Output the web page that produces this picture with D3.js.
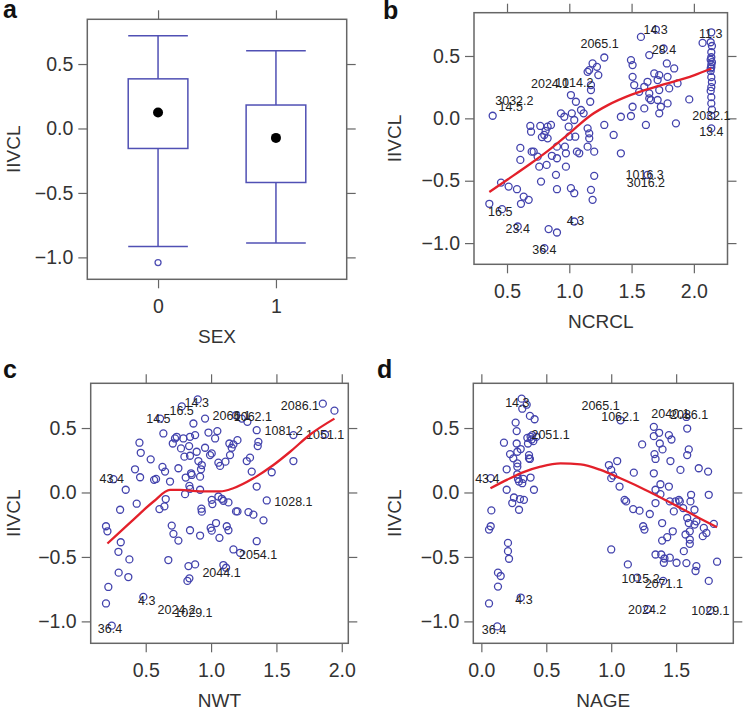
<!DOCTYPE html>
<html><head><meta charset="utf-8">
<script src="https://cdn.jsdelivr.net/npm/d3@7"></script>
<style>
body{margin:0;background:#fff;}
svg{display:block;font-family:"Liberation Sans",Arial,Helvetica,sans-serif;}
</style></head>
<body>
<svg id="chart" width="748" height="710"></svg>
<script>
// ---------------- DATA ----------------
const yTicks = [-1.0, -0.5, 0.0, 0.5];
const yLabel = "IIVCL";

// Panel a: box plot by SEX
const sexCategories = ["0", "1"];
const boxWhiskerLow  = [-0.915, -0.888];
const boxQ1          = [-0.155, -0.419];
const boxQ3          = [0.385, 0.182];
const boxWhiskerHigh = [0.719, 0.603];
const boxMedian      = [0.124, -0.073];
const boxOutliers    = [[0, -1.04]];   // [category index, value]

// Panel b: NCRCL
const ncrclTicks = [0.5, 1.0, 1.5, 2.0];
const ncrclX = [0.385,0.358,0.46,0.452,0.513,0.58,0.607,0.607,0.612,0.634,0.674,0.586,0.687,0.693,0.698,0.714,0.746,0.759,0.767,0.773,0.799,0.818,0.826,0.826,0.853,0.834,0.901,0.80,0.901,0.901,0.893,0.901,0.933,0.96,0.965,0.973,0.973,1.013,0.995,1.0,1.013,1.04,1.053,1.04,1.048,1.061,1.08,1.094,1.04,1.147,1.16,1.187,1.174,1.174,1.168,1.147,1.16,1.16,1.147,1.174,1.187,1.2,1.2,1.222,1.233,1.281,1.356,1.281,1.414,1.414,1.495,1.508,1.508,1.521,1.508,1.495,1.561,1.575,1.602,1.602,1.615,1.628,1.642,1.642,1.655,1.642,1.695,1.682,1.709,1.722,1.722,1.709,1.735,1.722,1.757,1.783,1.789,1.802,1.789,1.842,1.856,1.869,1.963,1.628,2.07,1.115,0.78,0.81,0.86,1.02,
 2.14,2.135,2.145,2.14,2.14,2.135,2.145,2.14,2.14,2.135,2.14,2.145,2.14,2.135,2.14,2.14,2.145,2.14,2.14,2.135];
const ncrclY = [0.021,-0.685,-0.728,-0.515,-0.547,-0.568,-0.237,-0.333,-0.685,-0.627,-0.653,-0.867,-0.061,-0.107,-0.267,-0.267,-0.307,-0.387,-0.061,-0.507,-0.133,-0.373,-0.067,-0.16,-0.053,-0.888,-0.915,-1.04,-0.227,-0.32,-0.453,-0.568,0.04,0.013,-0.227,-0.28,-0.387,0.187,-0.067,-0.147,-0.56,-0.6,0.133,-0.013,-0.147,-0.267,-0.28,0.067,-0.827,0.373,0.387,0.44,0.267,0.227,0.133,-0.08,-0.12,-0.16,-0.227,-0.573,-0.653,-0.461,-0.267,0.413,0.347,-0.053,-0.133,0.488,-0.28,0.013,0.467,0.427,0.333,0.267,0.093,0.019,0.213,0.653,0.253,0.08,-0.053,0.293,0.2,0.16,0.147,0.507,0.712,0.36,0.307,0.347,0.227,0.147,0.093,0.04,0.56,0.44,0.333,0.24,0.12,0.4,-0.04,0.28,0.152,-0.453,0.605,0.04,-0.15,-0.1,-0.3,0.04,
 0.69,0.61,0.58,0.53,0.49,0.47,0.45,0.43,0.41,0.38,0.33,0.29,0.25,0.22,0.17,0.12,0.07,0.02,-0.08,0.40];
const ncrclLoessX = [0.358,0.505,0.693,0.854,1.0,1.176,1.31,1.5,1.71,2.0,2.14];
const ncrclLoessY = [-0.59,-0.49,-0.36,-0.24,-0.12,0.027,0.106,0.19,0.258,0.345,0.40];
const ncrclLabels = ["2065.1","14.3","11.3","28.4","2024.1","1014.2","3032.2","14.5","2032.1","13.4","1016.3","3016.2","16.5","23.4","4.3","36.4"];
const ncrclLabelX = [1.243,1.693,2.135,1.76,0.846,1.04,0.559,0.53,2.14,2.14,1.605,1.615,0.446,0.586,1.05,0.80];
const ncrclLabelY = [0.603,0.709,0.677,0.55,0.279,0.29,0.146,0.093,0.02,-0.106,-0.452,-0.513,-0.746,-0.884,-0.823,-1.054];

// Panel c: NWT
const nwtTicks = [0.5, 1.0, 1.5, 2.0];
const nwtX = [0.196,0.207,0.196,0.214,0.24,0.253,0.304,0.309,0.291,0.293,0.347,0.375,0.367,0.431,0.418,0.452,0.462,0.457,0.482,0.538,0.564,0.579,0.61,0.628,0.605,0.635,0.648,0.643,0.653,0.673,0.686,0.699,0.712,0.707,0.724,0.737,0.75,0.75,0.77,0.788,0.796,0.776,0.801,0.806,0.832,0.839,0.839,0.847,0.852,0.834,0.839,0.839,0.827,0.834,0.819,0.865,0.878,0.89,0.898,0.878,0.903,0.923,0.929,0.916,0.916,0.926,0.929,0.916,0.954,0.954,0.98,0.992,1.005,1.005,1.01,0.997,1.005,1.031,1.048,1.038,1.056,1.069,1.064,1.056,1.082,1.094,1.11,1.115,1.094,1.12,1.133,1.133,1.145,1.158,1.171,1.14,1.191,1.202,1.171,1.191,1.202,1.222,1.273,1.298,1.278,1.286,1.324,1.311,1.349,1.357,1.362,1.349,1.349,1.401,1.426,1.464,1.63,1.63,1.855,1.944,1.872,1.235];
const nwtY = [-0.262,-0.301,-0.861,-0.733,-1.033,0.103,-0.134,-0.386,-0.46,-0.622,0.021,-0.519,-0.656,-0.087,0.18,0.386,0.308,0.118,-0.81,0.257,0.098,0.105,0.573,0.198,-0.129,0.458,0.162,-0.108,-0.051,-0.524,0.085,-0.257,-0.321,0.38,0.419,0.432,0.188,-0.373,0.342,0.419,0.278,0.668,-0.013,0.116,0.36,0.432,0.285,0.149,0.136,0.051,0.028,-0.293,-0.571,-0.666,-0.686,0.535,0.445,0.316,0.722,-0.558,0.244,0.18,0.213,0.123,0.021,-0.126,-0.149,-0.334,0.573,0.347,0.465,0.29,0.303,-0.057,-0.09,-0.275,-0.296,0.419,0.476,-0.237,0.231,0.206,-0.352,-0.031,-0.049,-0.064,0.239,-0.584,-0.563,-0.262,-0.293,-0.077,0.29,0.347,0.373,0.38,-0.147,-0.147,-0.442,0.599,0.406,-0.468,0.244,0.27,0.548,-0.152,-0.172,0.162,0.483,0.36,0.393,0.046,-0.378,-0.216,-0.062,0.157,0.445,0.244,0.689,0.635,0.45,0.573];
const nwtLoessX = [0.207,0.406,0.56,0.686,0.763,0.916,1.07,1.17,1.324,1.477,1.605,1.758,1.944];
const nwtLoessY = [-0.396,-0.21,-0.07,0.02,0.02,0.008,0.008,0.033,0.11,0.213,0.316,0.45,0.573];
const nwtLabels = ["14.3","16.5","14.5","2066.1","1062.1","1081.2","1051.1","2086.1","43.4","1028.1","2054.1","2044.1","4.3","2024.2","1029.1","36.4"];
const nwtLabelX = [0.89,0.775,0.597,1.158,1.32,1.555,1.873,1.68,0.24,1.63,1.36,1.08,0.508,0.737,0.865,0.227];
const nwtLabelY = [0.70,0.637,0.573,0.60,0.59,0.483,0.445,0.676,0.105,-0.07,-0.48,-0.62,-0.84,-0.905,-0.93,-1.06];

// Panel d: NAGE
const nageTicks = [0.0, 0.5, 1.0, 1.5];
const nageX = [0.059,0.059,0.072,0.077,0.123,0.128,0.149,0.128,0.072,0.174,0.195,0.195,0.205,0.205,0.213,0.221,0.238,0.246,0.251,0.264,0.272,0.272,0.277,0.277,0.277,0.277,0.282,0.29,0.29,0.297,0.303,0.31,0.315,0.315,0.323,0.328,0.349,0.354,0.359,0.367,0.367,0.374,0.374,0.379,0.379,0.387,0.392,0.4,0.41,0.405,0.423,0.303,1.0,0.982,1.0,1.0,1.015,1.046,1.064,1.072,1.103,1.115,1.128,1.169,1.174,1.218,1.238,1.246,1.256,1.297,1.328,1.328,1.333,1.341,1.328,1.341,1.341,1.341,1.369,1.374,1.379,1.379,1.385,1.392,1.392,1.405,1.41,1.4,1.395,1.431,1.451,1.444,1.451,1.456,1.444,1.464,1.474,1.482,1.495,1.503,1.521,1.528,1.533,1.554,1.572,1.559,1.579,1.585,1.597,1.585,1.585,1.597,1.605,1.605,1.605,1.61,1.615,1.641,1.641,1.656,1.674,1.705,1.656,1.649,1.713,1.733,1.746,1.751,1.751,1.79,1.815,1.764,1.282,1.2,1.579];
const nageY = [-0.861,-0.288,-0.262,-0.139,-1.039,-0.622,-0.648,-0.73,0.111,0.386,0.021,0.18,-0.391,-0.455,-0.514,0.298,-0.082,0.265,-0.039,0.542,0.476,0.38,0.316,0.226,0.2,0.141,0.105,0.085,-0.134,-0.051,0.337,0.728,0.65,0.072,0.105,-0.057,0.681,0.424,0.38,0.29,0.265,0.26,0.594,0.116,0.432,0.411,0.445,0.398,0.568,0.021,0.432,-0.815,-0.442,0.213,0.175,0.111,0.131,0.244,0.046,0.56,-0.057,-0.069,-0.558,-0.129,0.154,-0.141,0.373,-0.262,-0.288,-0.167,0.509,0.437,0.298,0.26,0.149,0.021,-0.082,-0.481,0.463,0.38,0.064,-0.013,-0.481,-0.237,-0.373,-0.545,-0.512,-0.686,0.334,-0.347,-0.506,0.046,-0.069,0.244,0.445,0.411,-0.301,-0.147,-0.069,-0.545,-0.057,-0.069,0.175,-0.121,-0.326,-0.455,-0.548,0.496,0.334,0.29,-0.198,-0.237,-0.301,-0.365,-0.398,-0.069,-0.018,-0.134,-0.249,-0.224,0.188,-0.339,-0.571,-0.609,-0.275,-0.314,0.162,-0.018,-0.686,-0.244,-0.537,-0.913,-0.905,-0.661,0.586];
const nageLoessX = [0.07,0.2,0.33,0.456,0.61,0.764,0.918,1.07,1.225,1.38,1.533,1.687,1.815];
const nageLoessY = [0.033,0.10,0.16,0.20,0.226,0.218,0.175,0.11,0.039,-0.039,-0.12,-0.203,-0.27];
const nageLabels = ["14.3","2065.1","1062.1","2040.1","2086.1","2051.1","43.4","4.3","36.4","1015.2","2071.1","2024.2","1029.1"];
const nageLabelX = [0.277,0.918,1.07,1.456,1.6,0.533,0.046,0.328,0.097,1.226,1.405,1.277,1.764];
const nageLabelY = [0.70,0.676,0.59,0.612,0.604,0.45,0.11,-0.835,-1.067,-0.666,-0.707,-0.905,-0.918];

// ---------------- LAYOUT / STYLE ----------------
const svg = d3.select("#chart");
const yDomain = [-1.17, 0.847];
const ptColor = "#4343ad", lineColor = "#e3202a", frameColor = "#666";
const fmt = d3.format(".1f");

function panelFrame(g, p, xScale, yScale, xTickVals, xTickFmt, xTitle, letter, letterPos) {
  const tick = 9;
  const yl = d3.axisLeft(yScale).tickValues(yTicks).tickFormat(fmt).tickSize(tick).tickPadding(5);
  const gl = g.append("g").attr("transform", `translate(${p.x0},0)`).call(yl);
  const yr = d3.axisRight(yScale).tickValues(yTicks).tickFormat("").tickSize(tick);
  const gr = g.append("g").attr("transform", `translate(${p.x1},0)`).call(yr);
  const xb = d3.axisBottom(xScale).tickValues(xTickVals).tickFormat(xTickFmt).tickSize(tick).tickPadding(11);
  const gb = g.append("g").attr("transform", `translate(0,${p.y1})`).call(xb);
  const xt = d3.axisTop(xScale).tickValues(xTickVals).tickFormat("").tickSize(tick);
  const gt = g.append("g").attr("transform", `translate(0,${p.y0})`).call(xt);
  [gl, gr, gb, gt].forEach(a => {
    a.select(".domain").remove();
    a.selectAll("line").attr("stroke", frameColor).attr("stroke-width", 1.2);
    a.selectAll("text").attr("fill", "#333").style("font-size", "19.5px")
      .style("font-family", '"Liberation Sans",Arial,sans-serif');
  });
  g.append("rect").attr("x", p.x0).attr("y", p.y0).attr("width", p.x1 - p.x0).attr("height", p.y1 - p.y0)
    .attr("fill", "none").attr("stroke", frameColor).attr("stroke-width", 1.5);
  g.append("text").attr("x", (p.x0 + p.x1) / 2).attr("y", p.y1 + 64).attr("text-anchor", "middle")
    .attr("fill", "#333").style("font-size", "19px").text(xTitle);
  g.append("text").attr("transform", `translate(${p.yt},${(p.y0 + p.y1) / 2}) rotate(-90)`)
    .attr("text-anchor", "middle").attr("dy", "0.35em").attr("fill", "#333").style("font-size", "19px").text(yLabel);
  g.append("text").attr("x", letterPos[0]).attr("y", letterPos[1]).attr("fill", "#111")
    .style("font-size", "25px").style("font-weight", "bold").text(letter);
}

function scatterPanel(p, xDomain, xTickVals, xs, ys, lx, ly, labels, loX, loY, xTitle, letter, letterPos) {
  const g = svg.append("g");
  const x = d3.scaleLinear().domain(xDomain).range([p.x0, p.x1]);
  const y = d3.scaleLinear().domain(yDomain).range([p.y1, p.y0]);
  panelFrame(g, p, x, y, xTickVals, fmt, xTitle, letter, letterPos);
  g.append("g").selectAll("circle").data(d3.range(xs.length)).join("circle")
    .attr("cx", i => x(xs[i])).attr("cy", i => y(ys[i])).attr("r", 3.5)
    .attr("fill", "none").attr("stroke", ptColor).attr("stroke-width", 1.3);
  g.append("g").selectAll("text").data(d3.range(labels.length)).join("text")
    .attr("x", i => x(lx[i])).attr("y", i => y(ly[i])).attr("dy", "0.35em")
    .attr("text-anchor", "middle").attr("fill", "#222").style("font-size", "12.5px").text(i => labels[i]);
  const line = d3.line().x(i => x(loX[i])).y(i => y(loY[i])).curve(d3.curveMonotoneX);
  g.append("path").attr("d", line(d3.range(loX.length))).attr("fill", "none")
    .attr("stroke", lineColor).attr("stroke-width", 2.3);
}

// Panel a
(function () {
  const p = { x0: 87.3, x1: 346.7, y0: 19.3, y1: 279.3, yt: 13 };
  const g = svg.append("g");
  const x = d3.scaleLinear().domain([0.4, 2.6]).range([p.x0, p.x1]);
  const y = d3.scaleLinear().domain(yDomain).range([p.y1, p.y0]);
  panelFrame(g, p, x, y, [1, 2], d => sexCategories[d - 1], "SEX", "a", [3, 18]);
  const hw = 0.253;
  const boxColor = "#5050b4";
  sexCategories.forEach((c, i) => {
    const cx = i + 1;
    const bg = g.append("g").attr("stroke", boxColor).attr("stroke-width", 1.5).attr("fill", "none");
    bg.append("rect").attr("x", x(cx - hw)).attr("y", y(boxQ3[i]))
      .attr("width", x(cx + hw) - x(cx - hw)).attr("height", y(boxQ1[i]) - y(boxQ3[i]));
    bg.append("line").attr("x1", x(cx)).attr("x2", x(cx)).attr("y1", y(boxQ3[i])).attr("y2", y(boxWhiskerHigh[i]));
    bg.append("line").attr("x1", x(cx)).attr("x2", x(cx)).attr("y1", y(boxQ1[i])).attr("y2", y(boxWhiskerLow[i]));
    bg.append("line").attr("x1", x(cx - hw)).attr("x2", x(cx + hw)).attr("y1", y(boxWhiskerHigh[i])).attr("y2", y(boxWhiskerHigh[i]));
    bg.append("line").attr("x1", x(cx - hw)).attr("x2", x(cx + hw)).attr("y1", y(boxWhiskerLow[i])).attr("y2", y(boxWhiskerLow[i]));
    g.append("circle").attr("cx", x(cx)).attr("cy", y(boxMedian[i])).attr("r", 5).attr("fill", "#000");
  });
  boxOutliers.forEach(o => {
    g.append("circle").attr("cx", x(o[0] + 1)).attr("cy", y(o[1])).attr("r", 3)
      .attr("fill", "none").attr("stroke", boxColor).attr("stroke-width", 1.3);
  });
})();

scatterPanel({ x0: 474, x1: 727.5, y0: 12.7, y1: 264.3, yt: 394 }, [0.235, 2.27], ncrclTicks,
  ncrclX, ncrclY, ncrclLabelX, ncrclLabelY, ncrclLabels, ncrclLoessX, ncrclLoessY, "NCRCL", "b", [383, 19]);
scatterPanel({ x0: 90.7, x1: 348.3, y0: 383.3, y1: 643.3, yt: 13 }, [0.079, 2.05], nwtTicks,
  nwtX, nwtY, nwtLabelX, nwtLabelY, nwtLabels, nwtLoessX, nwtLoessY, "NWT", "c", [3, 378]);
scatterPanel({ x0: 473.3, x1: 733.3, y0: 383.3, y1: 643.3, yt: 394 }, [-0.062, 1.94], nageTicks,
  nageX, nageY, nageLabelX, nageLabelY, nageLabels, nageLoessX, nageLoessY, "NAGE", "d", [377, 378]);
</script>
</body></html>
